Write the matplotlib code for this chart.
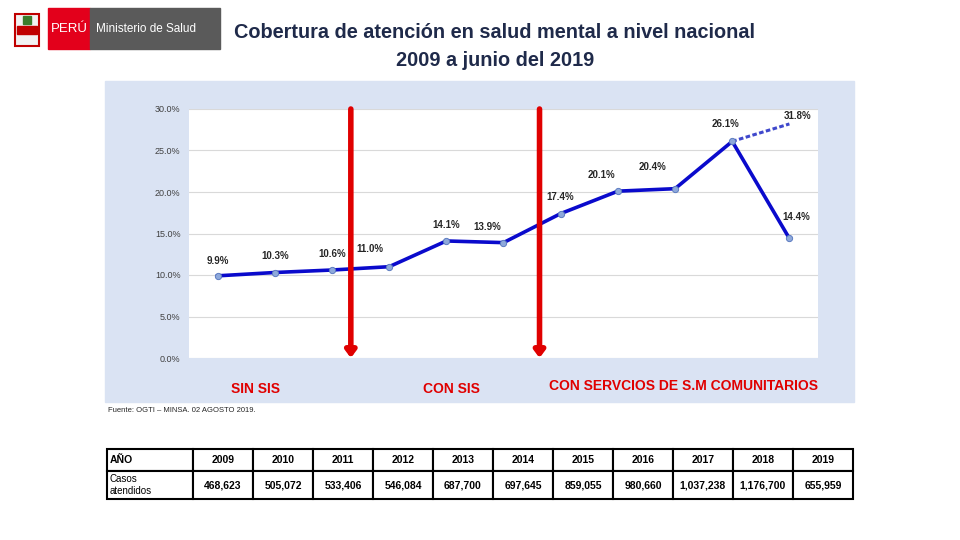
import matplotlib
matplotlib.use("Agg")
import matplotlib.pyplot as plt
from matplotlib.patches import Rectangle, FancyArrowPatch

plt.rcParams['font.family'] = ['Liberation Sans', 'DejaVu Sans']

# data
years = [2009, 2010, 2011, 2012, 2013, 2014, 2015, 2016, 2017, 2018, 2019]
coverage = [9.9, 10.3, 10.6, 11.0, 14.1, 13.9, 17.4, 20.1, 20.4, 26.1, 14.4]
proj_years = [2018, 2019]
proj_values = [26.1, 28.2]          # drawn end of projected dashed segment
proj_label = "31.8%"
cases = ["468,623", "505,072", "533,406", "546,084", "687,700", "697,645",
         "859,055", "980,660", "1,037,238", "1,176,700", "655,959"]
split_years = [2011.33, 2014.63]
sections = ["SIN SIS", "CON SIS", "CON SERVCIOS DE S.M COMUNITARIOS"]
section_x = [2009.66, 2013.09, 2017.15]
section_y = [-3.7, -3.7, -3.4]

# label offsets (points)
label_off = [(0, 7), (0, 8), (0, 8), (-14, 9), (0, 8), (-12, 8),
             (0, 8), (-12, 8), (-16, 12), (-5, 9), (5, 12)]

fig = plt.figure(figsize=(9.6, 5.4), dpi=100)
W, H = 960, 540


def fx(px):
    return px / W


def fy(py):
    return 1 - py / H


# header / logo
fig.add_artist(Rectangle((fx(48), fy(49)), fx(42), 41 / H, color='#E3001B',
                         transform=fig.transFigure))
fig.add_artist(Rectangle((fx(90), fy(49)), fx(130), 41 / H, color='#5A5A5A',
                         transform=fig.transFigure))
fig.text(fx(69), fy(29), "PERÚ", color='white', fontsize=9.5, ha='center', va='center')
fig.text(fx(96), fy(29), "Ministerio de Salud", color='white', fontsize=8.5,
         ha='left', va='center')
# coat of arms, rough
fig.add_artist(Rectangle((fx(15), fy(46)), fx(24), 32 / H, facecolor='#F2F2F2',
                         edgecolor='#C00000', lw=1.5, transform=fig.transFigure))
fig.add_artist(Rectangle((fx(17), fy(34)), fx(20), 8 / H, color='#C00000',
                         transform=fig.transFigure))
fig.add_artist(Rectangle((fx(23), fy(24)), fx(8), 8 / H, color='#3A7D2C',
                         transform=fig.transFigure))

fig.text(fx(495), fy(32), "Cobertura de atención en salud mental a nivel nacional",
         color='#1F2A4A', fontsize=14.3, fontweight='bold', ha='center', va='center')
fig.text(fx(495), fy(61), "2009 a junio del 2019",
         color='#1F2A4A', fontsize=14.3, fontweight='bold', ha='center', va='center')

# blue panel
fig.add_artist(Rectangle((fx(105), fy(402)), fx(749), 321 / H, color='#DAE3F3',
                         transform=fig.transFigure, zorder=0))

ax = fig.add_axes([fx(189), fy(358), fx(629), 249 / H])
ax.set_xlim(2008.5, 2019.5)
ax.set_ylim(0, 30)
ax.set_yticks([0, 5, 10, 15, 20, 25, 30])
ax.set_yticklabels([f"{v:.1f}%" for v in [0, 5, 10, 15, 20, 25, 30]],
                   fontsize=6.5, color='#404040')
ax.set_xticks([])
ax.tick_params(axis='y', length=0, pad=6)
for s in ax.spines.values():
    s.set_visible(False)
ax.grid(axis='y', color='#D9D9D9', lw=0.8)
ax.set_axisbelow(True)

ax.plot(proj_years, proj_values, color='#3F48CC', lw=2.2, ls=(0, (1.5, 0.8)), zorder=3)
ax.plot(years, coverage, color='#0A0ACC', lw=2.6, zorder=4,
        marker='o', ms=4.5, mfc='#8EA9DB', mec='#5B7BC0', mew=0.7)

for x, y, off in zip(years, coverage, label_off):
    ax.annotate(f"{y:.1f}%", (x, y), xytext=off, textcoords='offset points',
                ha='center', va='bottom', fontsize=7, fontweight='bold', color='#262626')
ax.annotate(proj_label, (proj_years[1], proj_values[1]), xytext=(6, 2),
            textcoords='offset points', ha='center', va='bottom', fontsize=7,
            fontweight='bold', color='#262626')

for sx in split_years:
    ax.add_patch(FancyArrowPatch((sx, 30), (sx, 0), arrowstyle='-|>,head_length=4,head_width=3',
                                 color='#E00000', lw=4, mutation_scale=1,
                                 shrinkA=0, shrinkB=0, zorder=5, clip_on=False))

for name, sx, sy in zip(sections, section_x, section_y):
    ax.text(sx, sy, name, ha='center', va='center', color='#E00000',
            fontsize=10, fontweight='bold', clip_on=False)

fig.text(fx(108), fy(410), "Fuente: OGTI – MINSA. 02 AGOSTO 2019.", fontsize=5.5,
         ha='left', va='center', color='#262626')

# table
tax = fig.add_axes([fx(107), fy(499), fx(746), 50 / H])
tax.axis('off')
cells = [["AÑO"] + [str(y) for y in years], ["Casos\natendidos"] + cases]
tbl = tax.table(cellText=cells, bbox=[0, 0, 1, 1], cellLoc='center')
tbl.auto_set_font_size(False)
first_w = 86 / 746
other_w = (1 - first_w) / len(years)
for (r, c), cell in tbl.get_celld().items():
    cell.set_linewidth(1.5)
    cell.set_width(first_w if c == 0 else other_w)
    cell.set_height(22 / 50 if r == 0 else 28 / 50)
    cell.get_text().set_fontsize(7.5)
    if c == 0:
        cell.get_text().set_ha('left')
        cell._loc = 'left'
        cell.PAD = 0.03
    if r == 0 or c > 0:
        cell.get_text().set_fontweight('bold')
    if r == 1 and c == 0:
        cell.get_text().set_fontsize(7)

fig.savefig("out.png", dpi=100)
